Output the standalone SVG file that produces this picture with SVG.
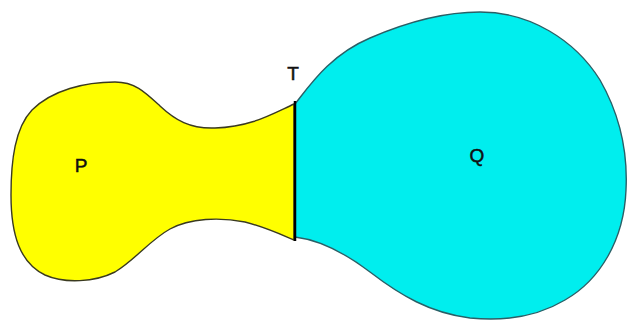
<svg xmlns="http://www.w3.org/2000/svg" width="628" height="323" viewBox="0 0 628 323">
<style>
.lbl{font-family:"Liberation Sans",Arial,sans-serif;font-size:19px;fill:#111;stroke:#111;stroke-width:0.5;text-anchor:middle}
.p{fill:#ffff00;stroke:#3a3a20;stroke-width:1.4}
.q{fill:#00eeee;stroke:#2a5f66;stroke-width:1.4}
</style>
<rect width="628" height="323" fill="#ffffff"/>
<g id="P">
<path class="p" d="M294,104 C270,115 250,127 215,128 C190,129 175,120 160,106 C145,92 135,82 115,82 C85,82 52,90 32,110 C15,128 11,160 11,195 C11,235 20,263 45,275 C65,284 95,282 115,272 C135,260 150,240 170,229 C190,218 220,217 245,222 C265,227 280,234 294,240 Z"/>
<text class="lbl" x="81" y="172">P</text>
</g>
<g id="Q">
<path class="q" d="M295,104 C310,85 330,55 370,38 C400,25 440,12 480,12 C530,12 575,40 600,80 C620,115 628,150 626,190 C624,240 600,280 565,300 C535,318 500,321 470,318 C430,313 400,295 370,272 C345,253 320,240 295,237 Z"/>
<text class="lbl" x="477" y="162">Q</text>
</g>
<g id="T">
<line x1="295" y1="101" x2="295" y2="241" stroke="#000" stroke-width="2.5"/>
<text class="lbl" x="293" y="80">T</text>
</g>
</svg>
